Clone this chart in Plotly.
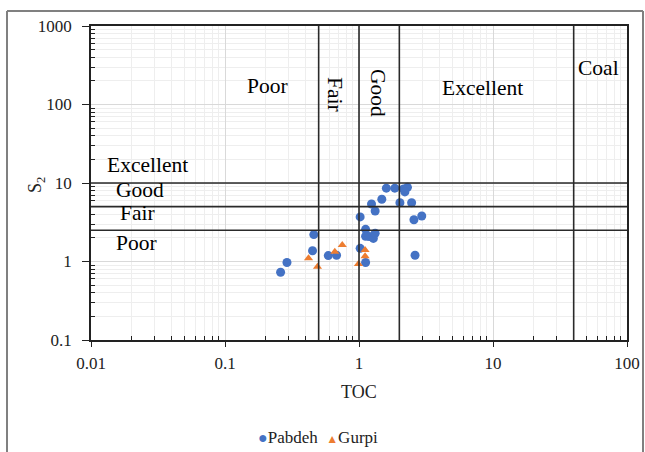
import plotly.graph_objects as go

# Data
pabdeh_toc = [0.26, 0.29, 0.45, 0.46, 0.59, 0.68, 1.02, 1.02, 1.12, 1.12, 1.19, 1.28, 1.32, 1.12,
              1.24, 1.32, 1.48, 1.60, 1.85, 2.02, 2.15, 2.30, 2.47, 2.57, 2.94, 2.62, 2.20]
pabdeh_s2 = [0.73, 0.97, 1.37, 2.2, 1.19, 1.2, 3.7, 1.47, 2.57, 2.1, 2.08, 1.97, 2.29, 0.97,
             5.4, 4.4, 6.2, 8.6, 8.6, 5.6, 8.4, 8.8, 5.6, 3.4, 3.8, 1.2, 7.7]
gurpi_toc = [0.42, 0.49, 0.66, 0.75, 0.99, 1.11, 1.11]
gurpi_s2 = [1.1, 0.86, 1.33, 1.62, 0.93, 1.4, 1.17]

series_names = ["Pabdeh", "Gurpi"]
series_colors = ["#4472C4", "#ED7D31"]

toc_bounds = [0.5, 1, 2, 40]
s2_bounds = [2.5, 5, 10]
toc_labels = ["Poor", "Fair", "Good", "Excellent", "Coal"]
s2_labels = ["Excellent", "Good", "Fair", "Poor"]
x_ticks = [0.01, 0.1, 1, 10, 100]
x_ticktext = ["0.01", "0.1", "1", "10", "100"]
y_ticks = [0.1, 1, 10, 100, 1000]
y_ticktext = ["0.1", "1", "10", "100", "1000"]

W, H = 645, 452
L, R, T, B = 91, 18, 26, 112
pw, ph = W - L - R, H - T - B

def px2paper(x, y):
    return (x - L) / pw, (H - B - y) / ph

FONT = "Liberation Serif"
INK = "#222"

fig = go.Figure()
fig.add_trace(go.Scatter(x=pabdeh_toc, y=pabdeh_s2, mode="markers", name=series_names[0],
                         marker=dict(symbol="circle", size=9, color=series_colors[0])))
fig.add_trace(go.Scatter(x=gurpi_toc, y=gurpi_s2, mode="markers", name=series_names[1],
                         marker=dict(symbol="triangle-up", size=8, color=series_colors[1])))

shapes = []
for v in toc_bounds:
    shapes.append(dict(type="line", xref="x", yref="paper", x0=v, x1=v, y0=0, y1=1,
                       line=dict(color="#2a2a2a", width=1.6)))
for v in s2_bounds:
    shapes.append(dict(type="line", xref="paper", yref="y", x0=0, x1=1, y0=v, y1=v,
                       line=dict(color="#2a2a2a", width=1.6)))
# outer frame (top, left, right)
fxl, fyt = px2paper(7, 11)
fxr, fyb = px2paper(643, 470)
for (x0, y0, x1, y1) in [(fxl, fyt, fxr, fyt), (fxl, fyt, fxl, fyb), (fxr, fyt, fxr, fyb)]:
    shapes.append(dict(type="line", xref="paper", yref="paper", x0=x0, y0=y0, x1=x1, y1=y1,
                       line=dict(color="#808080", width=2), layer="below"))
fig.update_layout(shapes=shapes)

def add_text(text, x, y, size, angle=0, color="black"):
    xp, yp = px2paper(x, y)
    return dict(text=text, x=xp, y=yp, xref="paper", yref="paper", showarrow=False,
                xanchor="center", yanchor="middle", textangle=angle,
                font=dict(family=FONT, size=size, color=color))

ann = []
top_pos = [(267, 86, 0), (335, 94, 90), (378, 93, 90), (482, 88, 0), (598, 68, 0)]
for t, (x, y, a) in zip(toc_labels, top_pos):
    ann.append(add_text(t, x, y, 21.5, a))
left_pos = [(147, 165), (140, 190), (137, 213), (136, 243)]
for t, (x, y) in zip(s2_labels, left_pos):
    ann.append(add_text(t, x, y, 21.5))
# axis titles
ann.append(add_text("TOC", 359, 392, 18, 0, INK))
ann.append(add_text("S<sub>2</sub>", 36, 185, 18, -90, INK))
# legend (drawn as text)
legend_text = (
    f'<span style="color:{series_colors[0]};font-size:16px">●</span>{series_names[0]}'
    f'&nbsp; <span style="color:{series_colors[1]};font-size:12px">▲</span>{series_names[1]}'
)
ann.append(add_text(legend_text, 318, 437, 17, 0, INK))
fig.update_layout(annotations=ann)

x_minor = [m * 10.0 ** e for e in range(-2, 2) for m in range(2, 10)]
y_minor = [m * 10.0 ** e for e in range(-1, 3) for m in range(2, 10)]

axis_common = dict(type="log", showline=True, linecolor=INK, linewidth=1.5, mirror=True,
                   ticks="outside", tickcolor=INK, showgrid=True, automargin=False,
                   gridcolor="#d9d9d9", gridwidth=1, zeroline=False,
                   tickfont=dict(family=FONT, size=17, color=INK))

fig.update_xaxes(**axis_common, range=[-2, 2], tickvals=x_ticks, ticktext=x_ticktext,
                 ticklen=5, ticklabelstandoff=2,
                 minor=dict(tickvals=x_minor, ticks="inside", ticklen=4, tickcolor=INK,
                            showgrid=True, gridcolor="#eeeeee"))
fig.update_yaxes(**axis_common, range=[-1, 3], tickvals=y_ticks, ticktext=y_ticktext,
                 ticklen=7, ticklabelstandoff=7,
                 minor=dict(tickvals=y_minor, ticks="inside", ticklen=4, tickcolor=INK,
                            showgrid=True, gridcolor="#eeeeee"))

fig.update_layout(width=W, height=H, margin=dict(l=L, r=R, t=T, b=B, autoexpand=False),
                  font=dict(family=FONT, color=INK),
                  paper_bgcolor="white", plot_bgcolor="white",
                  showlegend=False)

fig.write_html("out.html", config={"displayModeBar": False},
               post_script="document.body.style.margin='0';")
